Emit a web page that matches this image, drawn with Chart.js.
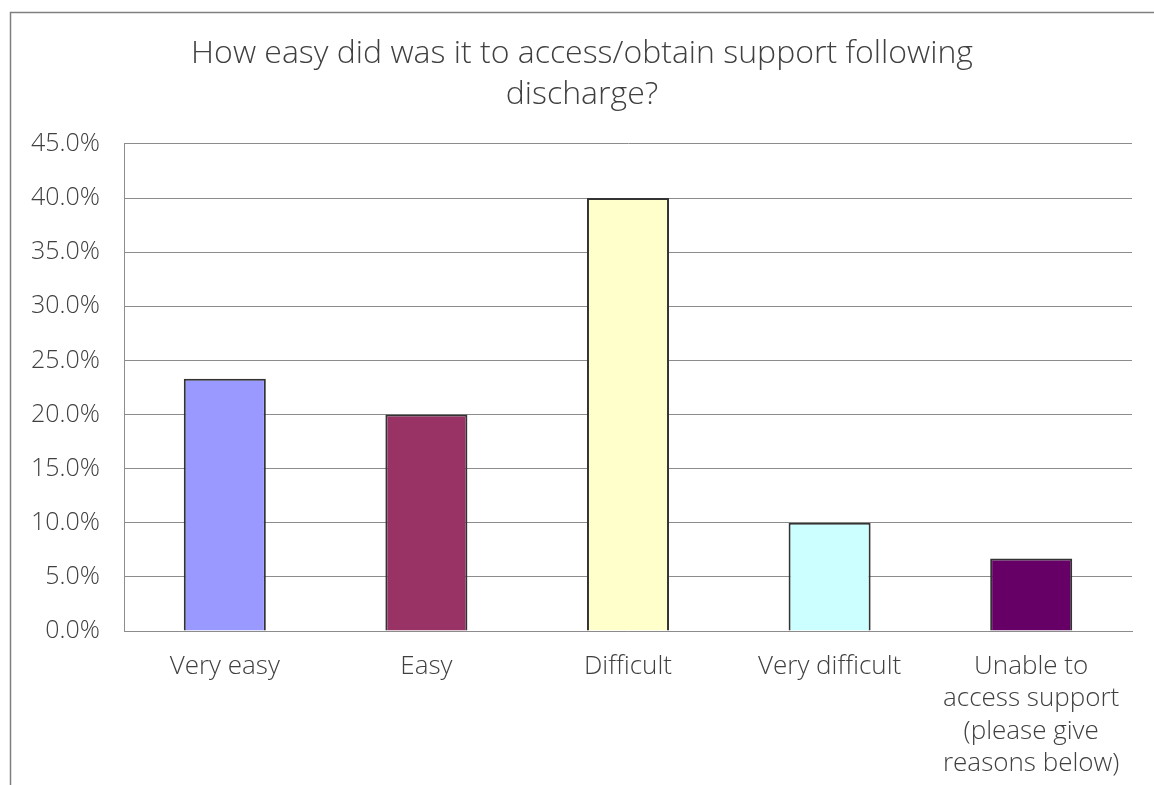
<!DOCTYPE html>
<html>
<head>
<meta charset="utf-8">
<script src="https://cdn.jsdelivr.net/npm/chart.js@4.4.0/dist/chart.umd.min.js"></script>
<style>
  body { margin: 0; background: #fff; }
  canvas { display: block; }
</style>
</head>
<body>
<canvas id="chart" width="1154" height="785"></canvas>
<script>
var categories = [
  "Very easy",
  "Easy",
  "Difficult",
  "Very difficult",
  ["Unable to", "access support", "(please give", "reasons below)"]
]
var percentages = [23.3, 20.0, 40.0, 10.0, 6.7]
var barColors = ["#9999ff", "#993366", "#ffffcc", "#ccffff", "#660066"]
var titleLines = ["How easy did was it to access/obtain support following", "discharge?"]

var textColor = "#404040"
var lineColor = "#8c8c8c"
var fontName = "'Open Sans', Lato, sans-serif"

// outer frame of the chart, only left and top edges are in the picture
var framePlugin = {
  id: "frame",
  beforeDraw: function(chart){
    var ctx = chart.ctx
    ctx.save()
    ctx.strokeStyle = "#7f7f7f"
    ctx.lineWidth = 1.5
    ctx.beginPath()
    ctx.moveTo(10.5, chart.height)
    ctx.lineTo(10.5, 12.5)
    ctx.lineTo(chart.width, 12.5)
    ctx.stroke()
    ctx.restore()
  }
}

var ctx = document.getElementById("chart").getContext("2d")
var chart = new Chart(ctx, {
  type: "bar",
  data: {
    labels: categories,
    datasets: [{
      data: percentages,
      backgroundColor: barColors,
      borderColor: "#333333",
      borderWidth: 2,
      categoryPercentage: 1,
      barPercentage: 0.407
    }]
  },
  options: {
    responsive: false,
    animation: false,
    layout: { padding: { left: 10, right: 0, top: 0, bottom: 0 } },
    plugins: {
      legend: { display: false },
      tooltip: { enabled: false },
      title: {
        display: true,
        text: titleLines,
        color: textColor,
        font: { family: fontName, size: 32, weight: 300, lineHeight: 1.28 },
        padding: { top: 33, bottom: 29 }
      }
    },
    scales: {
      x: {
        grid: { display: false },
        border: { display: true, color: lineColor, width: 1 },
        ticks: {
          color: textColor,
          font: { family: fontName, size: 26, weight: 300, lineHeight: 1.25 },
          padding: 11,
          maxRotation: 0,
          autoSkip: false
        },
        afterFit: function(scale){ scale.height = 154 }
      },
      y: {
        min: 0,
        max: 45,
        grid: { color: lineColor, drawTicks: false },
        border: { display: true, color: lineColor, width: 1 },
        ticks: {
          stepSize: 5,
          color: textColor,
          font: { family: fontName, size: 25, weight: 300 },
          padding: 24,
          callback: function(v){ return v.toFixed(1) + "%" }
        },
        afterFit: function(scale){ scale.width = 114 }
      },
      y2: {
        position: "right",
        display: true,
        grid: { display: false },
        border: { display: false },
        ticks: { display: false },
        afterFit: function(scale){ scale.width = 22 }
      }
    }
  },
  plugins: [framePlugin]
})
</script>
</body>
</html>
